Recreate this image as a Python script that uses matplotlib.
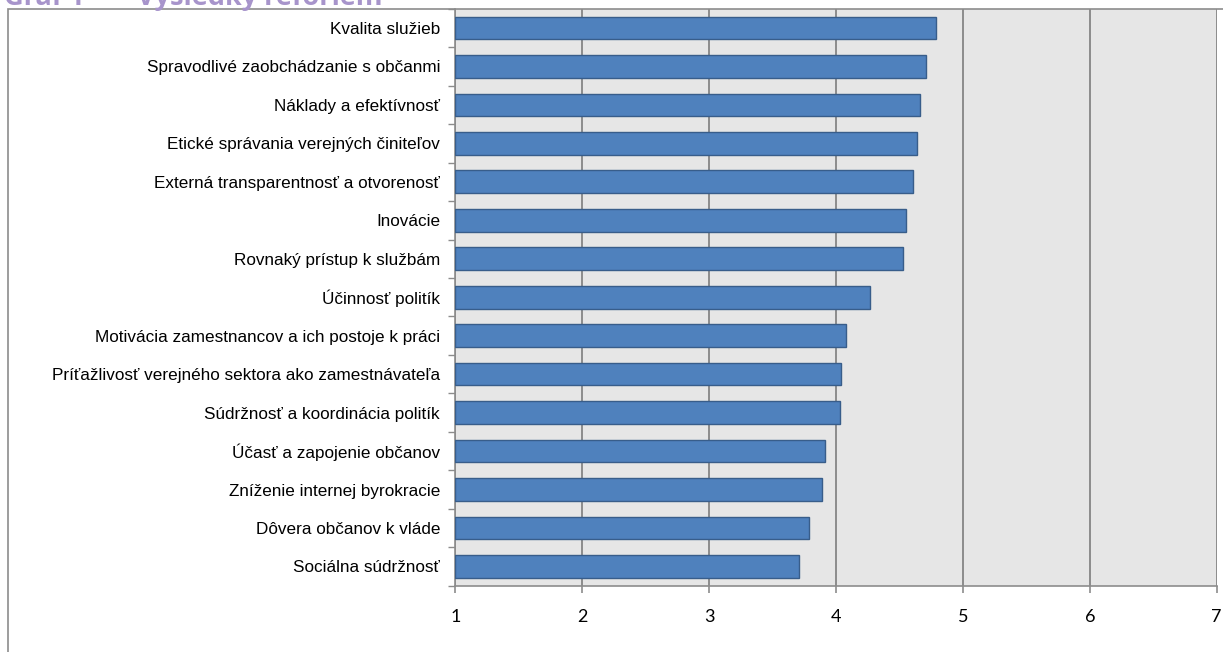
import matplotlib
matplotlib.use("Agg")
import matplotlib.pyplot as plt
from matplotlib.patches import Rectangle

categories = [
    "Kvalita služieb",
    "Spravodlivé zaobchádzanie s občanmi",
    "Náklady a efektívnosť",
    "Etické správania verejných činiteľov",
    "Externá transparentnosť a otvorenosť",
    "Inovácie",
    "Rovnaký prístup k službám",
    "Účinnosť politík",
    "Motivácia zamestnancov a ich postoje k práci",
    "Príťažlivosť verejného sektora ako zamestnávateľa",
    "Súdržnosť a koordinácia politík",
    "Účasť a zapojenie občanov",
    "Zníženie internej byrokracie",
    "Dôvera občanov k vláde",
    "Sociálna súdržnosť",
]
values = [4.79, 4.71, 4.66, 4.64, 4.61, 4.55, 4.53, 4.27, 4.08, 4.04, 4.03, 3.91, 3.89, 3.79, 3.71]
xticks = [1, 2, 3, 4, 5, 6, 7]
title_num = "Graf 1 –"
title_txt = "Výsledky reforiem"

W, H = 1223, 652
fig = plt.figure(figsize=(W / 100, H / 100), dpi=100)

# chart border
fig.patches.append(Rectangle((7.5 / W, -0.1), 1.2, 1 - 8.7 / H + 0.1,
                             transform=fig.transFigure, fill=False,
                             edgecolor="#8C8C8C", linewidth=1.2, zorder=0))

left, right, top, bottom = 455.3, 1216.7, 8.7, 585.7
ax = fig.add_axes([left / W, 1 - bottom / H, (right - left) / W, (bottom - top) / H])
ax.set_facecolor("#E6E6E6")

n = len(categories)
ypos = list(range(n))
ax.barh(ypos, [v - 1 for v in values], left=1, height=0.59,
        color="#4F81BD", edgecolor="#385D8A", linewidth=1.0, zorder=3)

ax.set_xlim(1, 7)
ax.set_ylim(n - 0.5, -0.5)
ax.set_xticks(xticks)
ax.set_xticklabels([str(t) for t in xticks], fontfamily="Lato", fontsize=13)
ax.set_yticks(ypos)
ax.set_yticklabels(categories, fontfamily="Liberation Sans", fontsize=12.3)
ax.tick_params(axis="y", length=0, pad=11)
ax.set_yticks([i - 0.5 for i in range(n + 1)], minor=True)
ax.tick_params(axis="y", which="minor", length=5, color="#8C8C8C", width=1)
ax.tick_params(axis="x", length=5, color="#8C8C8C", width=1.2, pad=12)

ax.grid(axis="x", color="#8C8C8C", linewidth=1.4, zorder=1)
ax.set_axisbelow(True)
for s in ["top", "right"]:
    ax.spines[s].set_visible(False)
for s in ["left", "bottom"]:
    ax.spines[s].set_color("#8C8C8C")
    ax.spines[s].set_linewidth(1.2)

fig.text(4 / W, 1 - 5 / H, title_num, fontfamily="Open Sans", fontweight="bold",
         fontsize=19.5, color="#A794CB", ha="left", va="baseline")
fig.text(137 / W, 1 - 5 / H, title_txt, fontfamily="Open Sans", fontweight="bold",
         fontsize=19.5, color="#A794CB", ha="left", va="baseline")

fig.savefig("out.png", dpi=100)
